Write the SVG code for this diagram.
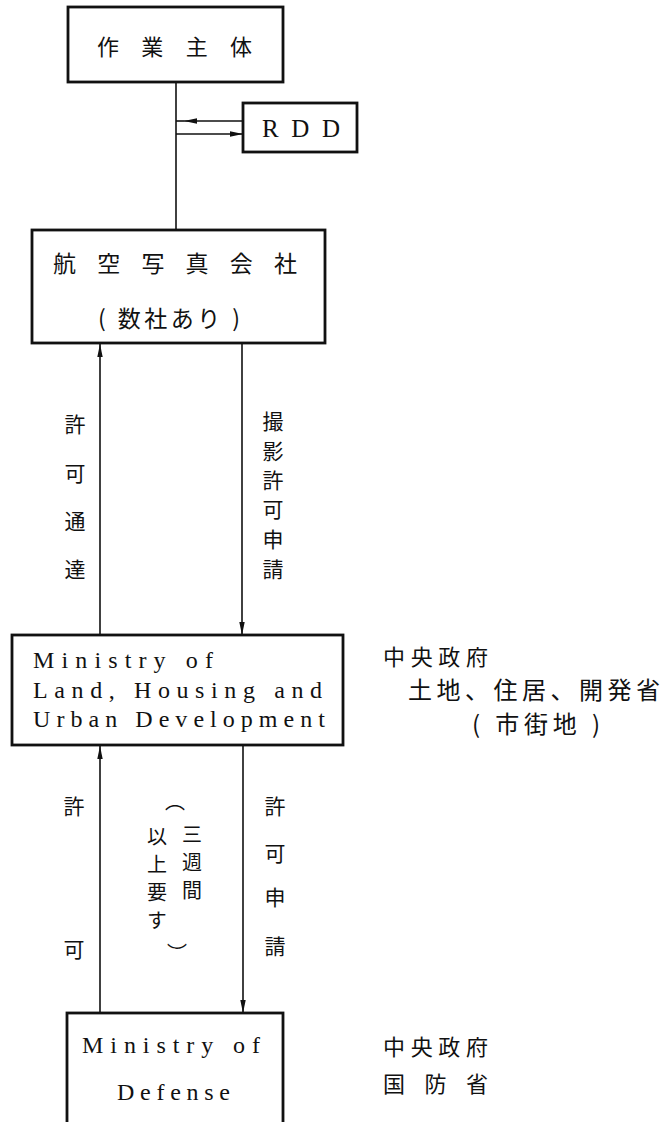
<svg xmlns="http://www.w3.org/2000/svg" width="667" height="1122" viewBox="0 0 667 1122">
<style>
.box{fill:#fff;stroke:#111;stroke-width:2.8}
.con{fill:none;stroke:#111;stroke-width:1.6}
.jp{font-family:"Noto Sans CJK JP","Noto Sans CJK SC",sans-serif;fill:#111;dominant-baseline:central}
.en{font-family:"Liberation Serif",serif;fill:#111}
.v{text-anchor:middle;font-size:21px}
.s{font-size:20px}
.col{font-family:"Noto Sans CJK JP","Noto Sans CJK SC",sans-serif;fill:#111;font-size:20px;writing-mode:vertical-rl;letter-spacing:8px}
</style>
<defs>
<marker id="ah" markerUnits="userSpaceOnUse" markerWidth="14" markerHeight="8" refX="13" refY="3.5" orient="auto">
<path d="M0,0.8 L13,3.5 L0,6.2 z" fill="#111"/>
</marker>
</defs>
<rect width="667" height="1122" fill="#fff"/>
<g id="connectors">
<path class="con" d="M176,82 V230"/>
<path class="con" d="M243,121 H184" marker-end="url(#ah)"/>
<path class="con" d="M184,121 H176"/>
<path class="con" d="M176,134 H243" marker-end="url(#ah)"/>
<path class="con" d="M100,635 V344" marker-end="url(#ah)"/>
<path class="con" d="M242,344 V635" marker-end="url(#ah)"/>
<path class="con" d="M100,1013 V746" marker-end="url(#ah)"/>
<path class="con" d="M243,746 V1013" marker-end="url(#ah)"/>
</g>
<g id="node-sagyo">
<rect class="box" x="68" y="7" width="215" height="75"/>
<text class="jp" x="97" y="45" font-size="22" textLength="155" lengthAdjust="spacing">作 業 主 体</text>
</g>
<g id="node-rdd">
<rect class="box" x="243" y="103" width="114" height="49"/>
<text class="en" x="262" y="137" font-size="25" textLength="78" lengthAdjust="spacing">RDD</text>
</g>
<g id="node-koku">
<rect class="box" x="32" y="230" width="293" height="113"/>
<text class="jp" x="53" y="262" font-size="23" textLength="244" lengthAdjust="spacing">航 空 写 真 会 社</text>
<text class="jp" x="98" y="317" font-size="23" textLength="142" lengthAdjust="spacing">( 数社あり )</text>
</g>
<g id="label-kyoka-tsutatsu">
<text class="jp v" x="75" y="423">許</text>
<text class="jp v" x="75" y="472">可</text>
<text class="jp v" x="75" y="520">通</text>
<text class="jp v" x="75" y="568">達</text>
</g>
<g id="label-satsuei">
<text class="jp v" x="273" y="420">撮</text>
<text class="jp v" x="273" y="450">影</text>
<text class="jp v" x="273" y="479">許</text>
<text class="jp v" x="273" y="508">可</text>
<text class="jp v" x="273" y="538">申</text>
<text class="jp v" x="273" y="568">請</text>
</g>
<g id="node-mlhud">
<rect class="box" x="12" y="635" width="331" height="110"/>
<text class="en" x="33" y="668" font-size="24" textLength="180" lengthAdjust="spacing">Ministry of</text>
<text class="en" x="33" y="698" font-size="24" textLength="289" lengthAdjust="spacing">Land, Housing and</text>
<text class="en" x="33" y="727" font-size="24" textLength="292" lengthAdjust="spacing">Urban Development</text>
</g>
<g id="note-mlhud">
<text class="jp" x="383" y="655" font-size="22" textLength="105" lengthAdjust="spacing">中央政府</text>
<text class="jp" x="408" y="688" font-size="24" textLength="252" lengthAdjust="spacing">土地、住居、開発省</text>
<text class="jp" x="472" y="722" font-size="24" textLength="128" lengthAdjust="spacing">( 市街地 )</text>
</g>
<g id="label-kyoka">
<text class="jp v" x="74" y="805">許</text>
<text class="jp v" x="74" y="948">可</text>
</g>
<g id="label-sanshukan">
<text class="jp v s" x="175" y="800">︵</text>
<text class="col" x="192" y="824">三週間</text>
<text class="col" x="157" y="826">以上要す</text>
<text class="jp v s" x="177" y="952">︶</text>
</g>
<g id="label-kyoka-shinsei">
<text class="jp v" x="275" y="805">許</text>
<text class="jp v" x="275" y="852">可</text>
<text class="jp v" x="275" y="896">申</text>
<text class="jp v" x="275" y="945">請</text>
</g>
<g id="node-mod">
<rect class="box" x="67" y="1013" width="216" height="120"/>
<text class="en" x="82" y="1053" font-size="24" textLength="178" lengthAdjust="spacing">Ministry of</text>
<text class="en" x="117" y="1100" font-size="24" textLength="113" lengthAdjust="spacing">Defense</text>
</g>
<g id="note-mod">
<text class="jp" x="383" y="1045" font-size="22" textLength="105" lengthAdjust="spacing">中央政府</text>
<text class="jp" x="383" y="1082" font-size="22" textLength="105" lengthAdjust="spacing">国 防 省</text>
</g>
</svg>
